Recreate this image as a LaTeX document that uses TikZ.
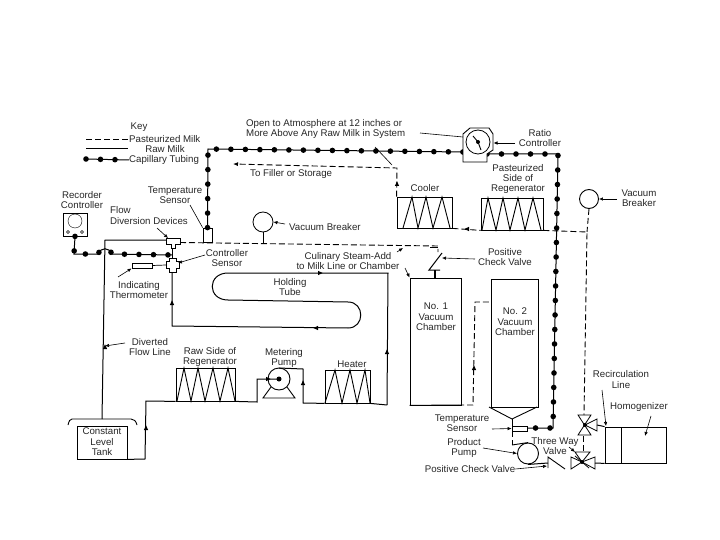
\documentclass[tikz,border=0pt]{standalone}
\usepackage{fontspec}
\setmainfont{Liberation Sans}
\usetikzlibrary{arrows.meta}
\tikzset{
    rawline/.style={line width=1pt},
    pastline/.style={line width=0.9pt, dash pattern=on 6pt off 3pt},
    capline/.style={line width=1pt, postaction={draw, line width=5.6pt, line cap=round, dash pattern=on 0pt off 14.5pt}},
    leader/.style={line width=0.6pt, -{Latex[length=4pt,width=3.5pt]}},
    plainleader/.style={line width=0.6pt},
    unitbox/.style={draw, line width=0.8pt, inner sep=0pt},
    coil/.style={line width=0.9pt, line join=miter},
    txt/.style={font=\fontsize{9.7}{10.4}\selectfont, align=center, inner sep=0pt, text=black!85}
}
\begin{document}
\begin{tikzpicture}[x=1pt,y=-1pt]
    \useasboundingbox (0,0) rectangle (720,540);

    % Key
    \node[txt] (keytitle) at (139,127) {Key};
    \node[txt, anchor=west] (keypast) at (129,139) {Pasteurized Milk};
    \node[txt] (keyraw) at (165,149) {Raw Milk};
    \node[txt, anchor=west] (keycap) at (129,160) {Capillary Tubing};
    \coordinate (keypastend) at (86,139);
    \coordinate (keyrawend) at (86,148.5);
    \coordinate (keyrawstop) at (128,148.5);
    \coordinate (keycapend) at (86,159);
    \draw[pastline] (keypastend) -- (keypast.west);
    \draw[rawline, line width=1.8pt] (keyrawend) -- (keyrawstop);
    \draw[capline] (keycapend) -- (keycap.west);

    % Recorder controller
    \node[unitbox, minimum width=24pt, minimum height=23pt] (recorder) at (75,224.5) {};
    \draw (75,221) circle (7);
    \draw (68,232) circle (1.5);
    \draw (82,232) circle (1.5);
    \node[txt] (recorderlbl) at (82,200) {Recorder\\Controller};

    % Sensors on the milk line
    \coordinate (tdiv) at (172,243);
    \coordinate (csen) at (172.5,265);
    \coordinate (tsen) at (207.5,243);
    \draw[line width=0.8pt, fill=white] (166,238) -- (180,238) -- (180,244) -- (175,244) -- (175,248) -- (171,248) -- (171,244) -- (166,244) -- cycle;
    \draw[line width=0.8pt, fill=white] (169,258) -- (176,258) -- (176,261) -- (179,261) -- (179,268) -- (176,268) -- (176,272) -- (169,272) -- (169,268) -- (166,268) -- (166,261) -- (169,261) -- cycle;
    \node[unitbox, minimum width=9pt, minimum height=14pt] (tempbox) at (207.5,235) {};
    \node[unitbox, minimum width=20pt, minimum height=5pt] (thermo) at (142,265.5) {};
    \draw[line width=0.7pt] (thermo.east) -- (166,265);

    % Capillary tubing
    \coordinate (capcorner) at (208,149);
    \coordinate (capright) at (558,154);
    \coordinate (caplow) at (553,428);
    \coordinate (rcin) at (463,152);
    \coordinate (rcout) at (487,154);
    \coordinate (recdrop) at (74,254);
    \draw[capline] (tempbox.north) -- (capcorner) -- (rcin);
    \draw[capline] (rcout) -- (capright) -- (caplow) -- (527,428);
    \draw[capline] (recorder.south) -- (recdrop) -- (98,254) .. controls (101,247) and (109,247) .. (112,254) -- (172,255);

    % Ratio controller
    \draw[line width=0.9pt, fill=white] (470,128) -- (489,128) -- (493,134) -- (493,150) -- (487,154) -- (487,162) -- (463,162) -- (463,134) -- cycle;
    \node[circle, draw, line width=0.8pt, minimum size=24pt, inner sep=0pt] (dial) at (478,142) {};
    \fill (dial.center) circle (2);
    \draw[line width=0.9pt] (dial.center) -- (481,150);
    \draw[line width=0.9pt] (dial.center) -- (473,136);

    % Pasteurized side
    \node[unitbox, minimum width=55pt, minimum height=31pt] (cooler) at (424.5,212.5) {};
    \node[unitbox, minimum width=62pt, minimum height=32pt] (pastregen) at (512,214) {};
    \draw[coil] (403,228) -- (412,197) -- (418,228) -- (426,197) -- (433,228) -- (442,197) -- (450,228);
    \draw[coil] (482,230) -- (488,198) -- (496,230) -- (503,198) -- (510,230) -- (518,198) -- (525,230) -- (533,198) -- (541,230);
    \coordinate (filler) at (233,164);
    \coordinate (fillcorner) at (397,168);
    \coordinate (homline) at (587,232);
    \coordinate (uvalve) at (585,425);
    \draw[pastline, -{Latex[length=5pt,width=4pt]}] (cooler.north west) -- (fillcorner) -- (filler);
    \draw[pastline] (cooler.south east) -- (pastregen.south west);
    \draw[pastline] (pastregen.south east) -- (homline) -- (584,415);

    % Main pasteurized line
    \coordinate (checkin) at (438,246);
    \draw[pastline] (180,242.5) -- (checkin) -- (438,252);
    \draw[line width=0.8pt] (430,247) -- (438,247);
    \draw[line width=1pt] (442,253) -- (429,270) -- (440,270);
    \draw[line width=1.2pt] (435,270) -- (435,278);

    % Vacuum breakers
    \node[circle, draw, line width=0.8pt, minimum size=20pt, inner sep=0pt] (vacleft) at (263,222) {};
    \coordinate (vacleftfoot) at (263,243);
    \draw[line width=0.9pt] (vacleft.south) -- (vacleftfoot);
    \node[circle, draw, line width=0.9pt, minimum size=19pt, inner sep=0pt] (vacright) at (589,199) {};
    \draw[pastline] (vacright.south) -- (homline);

    % Raw milk line and holding tube
    \coordinate (tubea) at (172,326);
    \coordinate (tubeb) at (388,273);
    \coordinate (tubec) at (387,405);
    \draw[rawline] (172,248) -- (172,258);
    \draw[rawline] (172,272) -- (tubea) -- (348,328) .. controls (365,328) and (365,302) .. (348,302) -- (228,300) .. controls (207,300) and (207,273) .. (228,273) -- (tubeb) -- (tubec);
    \node[unitbox, minimum width=45pt, minimum height=33pt] (heater) at (347.5,386.5) {};
    \draw[coil] (325,403) -- (335,370) -- (342,403) -- (350,370) -- (357,403) -- (365,370) -- (370,403);
    \node[unitbox, minimum width=59pt, minimum height=33pt] (rawregen) at (205.5,384.5) {};
    \draw[coil] (177,401) -- (184,368) -- (191,401) -- (198,368) -- (205,401) -- (213,368) -- (220,401) -- (228,368) -- (235,401);
    \node[circle, draw, line width=0.9pt, minimum size=22pt, inner sep=0pt] (pump) at (279,379) {};
    \fill (pump.center) circle (2.5);
    \draw[line width=0.9pt] (271,387) -- (263,398) -- (295,398) -- (287,387);
    \coordinate (pumpright) at (303,369);
    \coordinate (pumpleft) at (257,379);
    \draw[rawline] (tubec) -- (heater.south east);
    \draw[rawline] (heater.south west) -- (303,403) -- (pumpright) -- (279,368);
    \draw[rawline] (pump.center) -- (pumpleft) -- (257,402) -- (rawregen.south east);
    \coordinate (tanktee) at (146,401);

    % Constant level tank
    \node[unitbox, minimum width=50pt, minimum height=33pt] (tank) at (102,442.5) {};
    \draw[line width=0.9pt] (68,425) .. controls (69,421) and (70,419) .. (72,419) -- (131,419) .. controls (134,419) and (136,421) .. (137,425);
    \coordinate (divertedtop) at (105,240);
    \coordinate (tankfloor) at (145,459);
    \draw[rawline] (rawregen.south west) -- (tanktee) -- (tankfloor) -- (tank.south east);
    \draw[rawline] (166,240) -- (divertedtop) -- (102,419);

    % Vacuum chambers
    \node[unitbox, minimum width=51pt, minimum height=127pt, line width=0.9pt] (chamberone) at (435.5,341.5) {};
    \node[unitbox, minimum width=47pt, minimum height=128pt, line width=0.9pt] (chambertwo) at (514.5,343) {};
    \coordinate (hopper) at (512,419);
    \draw[line width=0.9pt] (489,407) -- (hopper) -- (537,407);
    \coordinate (onebase) at (458,405);
    \coordinate (twofeed) at (473,405);
    \coordinate (twotop) at (475,302);
    \draw[rawline] (chamberone.south west) -- (onebase);
    \draw[pastline] (onebase) -- (twofeed) -- (twotop) -- (chambertwo.west |- twotop);

    % Product pump and valves
    \node[unitbox, minimum width=15pt, minimum height=5pt] (sensorlow) at (519.5,428.5) {};
    \draw[line width=0.9pt] (hopper) -- (512,426);
    \node[circle, draw, line width=0.9pt, minimum size=21pt, inner sep=0pt] (prodpump) at (528,453.5) {};
    \draw[pastline] (512,431) -- (512,445);
    \draw[line width=0.9pt] (512,445) -- (prodpump.north);
    \coordinate (checkb) at (548,468);
    \draw[rawline] (prodpump.south) -- (548,463);
    \draw[line width=0.9pt] (checkb) -- (548,457) -- (565,469);
    \draw[line width=0.8pt] (578,415) -- (591,415) -- (578,435) -- (591,435) -- cycle;
    \draw[line width=0.8pt] (uvalve) -- (597,419) -- (597,431) -- cycle;
    \fill (uvalve) circle (2);
    \coordinate (lvalve) at (582,462);
    \draw[line width=0.8pt] (575,452) -- (590,452) -- (lvalve) -- cycle;
    \draw[line width=0.8pt] (lvalve) -- (571,457) -- (571,469) -- cycle;
    \draw[line width=0.8pt] (lvalve) -- (595,457) -- (595,469) -- cycle;
    \draw[line width=0.8pt] (575,456) -- (589,468);
    \fill (lvalve) circle (2);
    \draw[pastline] (583,436) -- (583,452);

    % Homogenizer
    \node[unitbox, minimum width=61pt, minimum height=36pt] (homog) at (635.5,445) {};
    \draw[line width=0.9pt] (621,427) -- (621,463);
    \draw[rawline] (597,425) -- (homog.north west);
    \draw[rawline] (595,463) -- (homog.south west);

    % Flow marks
    \foreach \x/\y/\a in {146/428/90, 172/303/90, 105/347/90, 320/273/0, 316/328/180, 387/352/90, 303/383/90, 397/184/90, 474/368/90, 467/229/180, 268/379/0}
        \fill[rotate around={\a:(\x,\y)}] (\x+2.6,\y) -- (\x-2,\y-2.2) -- (\x-2,\y+2.2) -- cycle;

    % Labels
    \node[txt, anchor=west, align=left] (openlbl) at (246,129) {Open to Atmosphere at 12 inches or\\More Above Any Raw Milk in System};
    \node[txt, anchor=west] (fillerlbl) at (250,174) {To Filler or Storage};
    \node[txt] (tempuplbl) at (175,195) {Temperature\\Sensor};
    \node[txt, anchor=west, align=left] (flowlbl) at (110,215.5) {Flow\\Diversion Devices};
    \node[txt] (csenlbl) at (227,258) {Controller\\Sensor};
    \node[txt] (indlbl) at (139,290) {Indicating\\Thermometer};
    \node[txt] (holdlbl) at (290,287) {Holding\\Tube};
    \node[txt] (divlbl) at (150,347) {Diverted\\Flow Line};
    \node[txt] (rawlbl) at (210,357) {Raw Side of\\Regenerator};
    \node[txt] (meterlbl) at (284,358) {Metering\\Pump};
    \node[txt] (heatlbl) at (352,364) {Heater};
    \node[txt] (tanklbl) at (102,442) {Constant\\Level\\Tank};
    \node[txt] (coollbl) at (425,188) {Cooler};
    \node[txt] (pastlbl) at (518,179) {Pasteurized\\Side of\\Regenerator};
    \node[txt] (ratiolbl) at (540,138) {Ratio\\Controller};
    \node[txt] (vacrlbl) at (639,198) {Vacuum\\Breaker};
    \node[txt, anchor=west] (vacllbl) at (289,227) {Vacuum Breaker};
    \node[txt] (steamlbl) at (348,261) {Culinary Steam-Add\\to Milk Line or Chamber};
    \node[txt] (checklbl) at (505,257) {Positive\\Check Valve};
    \node[txt] (onelbl) at (436,317) {No. 1\\Vacuum\\Chamber};
    \node[txt] (twolbl) at (515,322) {No. 2\\Vacuum\\Chamber};
    \node[txt] (templowlbl) at (462,423.5) {Temperature\\Sensor};
    \node[txt] (prodlbl) at (464,448) {Product\\Pump};
    \node[txt] (poscheck) at (470,469) {Positive Check Valve};
    \node[txt] (threelbl) at (555,446) {Three Way\\Valve};
    \node[txt] (recirclbl) at (621,379.5) {Recirculation\\Line};
    \node[txt] (homlbl) at (639,407) {Homogenizer};

    % Leaders
    \coordinate (openfoot) at (375,147);
    \coordinate (openend) at (392,165);
    \draw[plainleader] (openfoot) -- (openend);
    \coordinate (openfrom) at (420,133);
    \draw[plainleader] (openfrom) -- (463,137);
    \coordinate (divfrom) at (125,343);
    \coordinate (ratiofrom) at (515,143);
    \coordinate (checkfrom) at (475,259);
    \coordinate (vacrfrom) at (617,199);
    \draw[plainleader] (190,205) -- (tempbox.north west);
    \draw[leader] (157,228) -- (168,238);
    \draw[leader] (205,255) -- (178,263);
    \draw[leader] (118,277) -- (thermo.south west);
    \draw[leader] (divfrom) -- (105,346);
    \draw[leader] (ratiofrom) -- (493.5,143);
    \draw[leader] (vacrfrom) -- (vacright.east);
    \draw[leader] (285,224) -- (vacleft.east);
    \draw[leader] (397,252) -- (403,248);
    \draw[leader] (405,268) -- (chamberone.north west);
    \draw[leader] (checkfrom) -- (442,258);
    \draw[leader] (492,429) -- (sensorlow.west);
    \draw[leader] (483,448) -- (prodpump.west);
    \draw[leader] (poscheck.east) -- (547,466);
    \draw[leader] (569,447) -- (575,452);
    \draw[leader] (602,390) -- (606,426);
    \draw[leader] (651,416) -- (645,436);
\end{tikzpicture}
\end{document}
